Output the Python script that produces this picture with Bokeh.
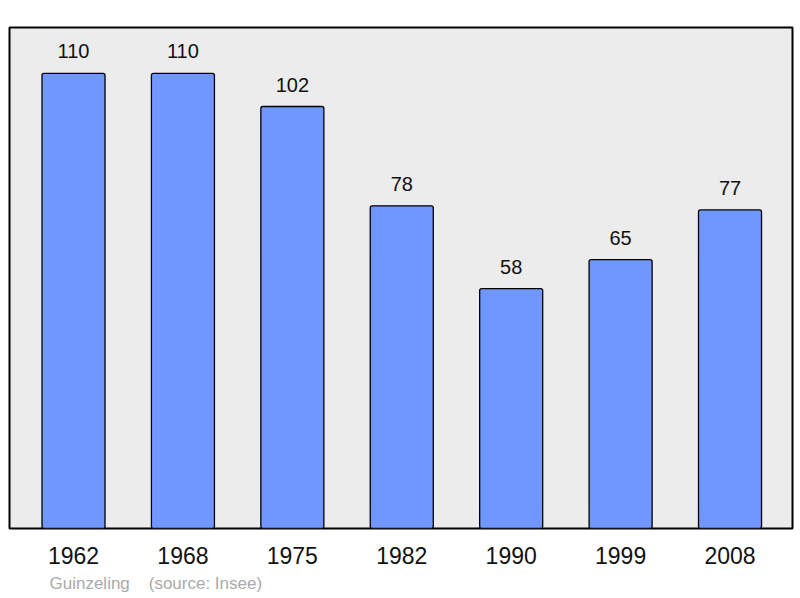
from bokeh.plotting import figure
from bokeh.models import Range1d, FixedTicker, ColumnDataSource, Title
from bokeh.core.properties import value
from bokeh.embed import file_html
from bokeh.resources import INLINE

years = ["1962", "1968", "1975", "1982", "1990", "1999", "2008"]
population = [110, 110, 102, 78, 58, 65, 77]
place = "Guinzeling"
source_text = "(source: Insee)"

idx = list(range(len(years)))
src = ColumnDataSource(dict(x=idx, pop=population, lbl=[str(v) for v in population]))

FONT = "Liberation Sans"

p = figure(width=795, height=598, output_backend="svg", toolbar_location=None,
           x_range=Range1d(-0.585, len(years) - 1 + 0.571), y_range=Range1d(0, 121.1),
           min_border_left=9, min_border_right=3, min_border_top=27, min_border_bottom=70)
p.background_fill_color = "#ececec"
p.border_fill_color = "white"
p.outline_line_color = "black"
p.outline_line_width = 2
p.grid.visible = False
p.yaxis.visible = False

p.vbar(x="x", top="pop", bottom=0, width=0.576, source=src, fill_color="#7096ff",
       line_color="black", line_width=1.3, border_radius=2)

p.text(x="x", y="pop", text="lbl", source=src, text_align="center", text_baseline="alphabetic",
       y_offset=-22, text_font=value(FONT), text_font_size="20px", text_color="#111111")

ax = p.xaxis[0]
ax.ticker = FixedTicker(ticks=idx)
ax.major_label_overrides = {i: y for i, y in zip(idx, years)}
ax.axis_line_color = None
ax.major_tick_line_color = None
ax.major_tick_out = 0
ax.minor_tick_out = 0
ax.minor_tick_line_color = None
ax.major_label_text_font = FONT
ax.major_label_text_font_size = "23px"
ax.major_label_text_color = "#111111"
ax.major_label_standoff = 18

footer = Title(text=place + "\u00a0\u00a0\u00a0\u00a0" + source_text, align="left", offset=40,
               text_font=FONT, text_font_size="17px", text_font_style="normal",
               text_color="#aaaaaa", standoff=11)
p.add_layout(footer, "below")

open("out.html", "w").write(file_html(p, INLINE))
